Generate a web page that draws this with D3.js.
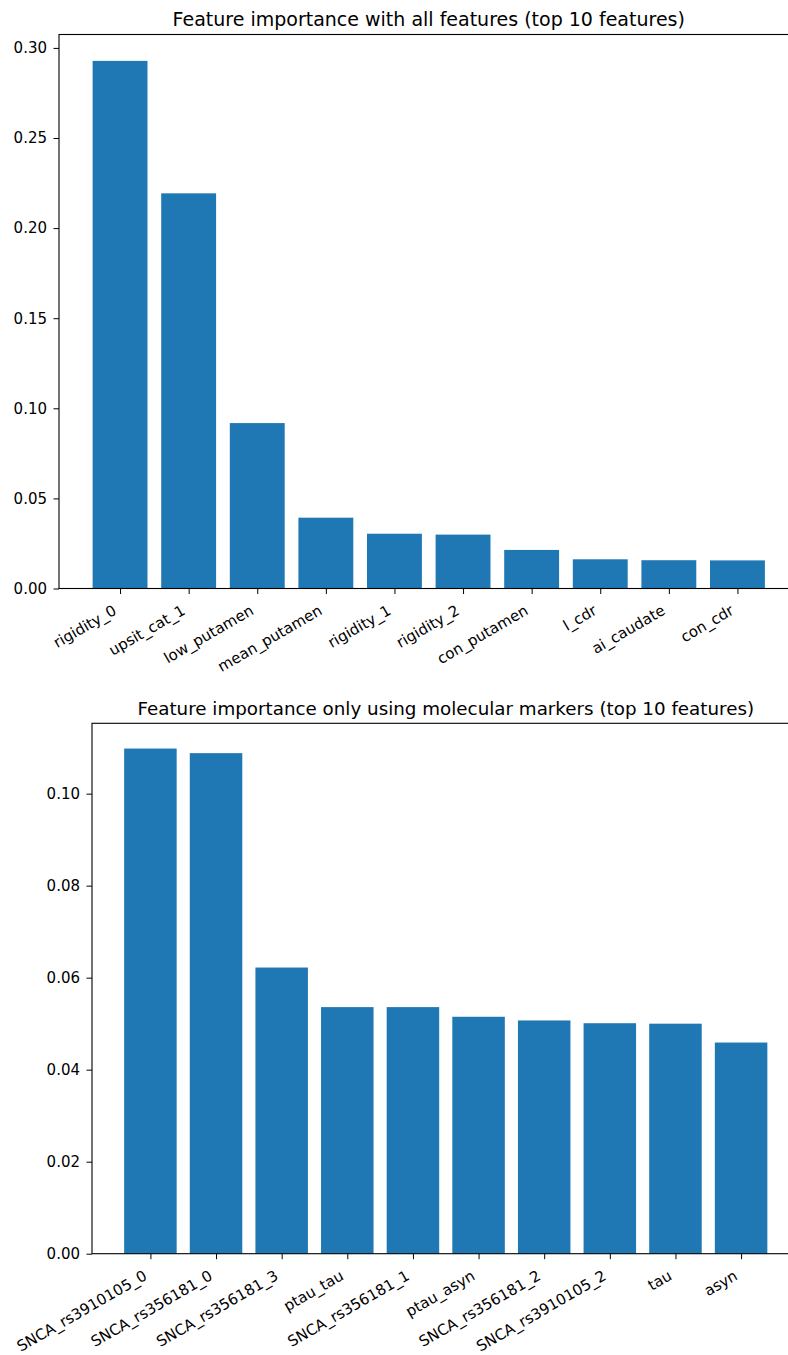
<!DOCTYPE html>
<html>
<head>
<meta charset="utf-8">
<script src="https://cdn.jsdelivr.net/npm/d3@7"></script>
<style>
  html, body { margin: 0; padding: 0; background: #fff; }
  svg { display: block; }
  text { font-family: "DejaVu Sans", sans-serif; fill: #000; }
</style>
</head>
<body>
<svg id="chart" width="788" height="1355"></svg>
<script>
// ---- data ----
const titleTop = "Feature importance with all features (top 10 features)";
const categoriesTop = ["rigidity_0", "upsit_cat_1", "low_putamen", "mean_putamen", "rigidity_1",
  "rigidity_2", "con_putamen", "l_cdr", "ai_caudate", "con_cdr"];
const valuesTop = [0.2928, 0.2193, 0.0918, 0.0393, 0.0304, 0.0299, 0.0214, 0.0162, 0.0157, 0.0156];
const yTicksTop = [0.00, 0.05, 0.10, 0.15, 0.20, 0.25, 0.30];

const titleBottom = "Feature importance only using molecular markers (top 10 features)";
const categoriesBottom = ["SNCA_rs3910105_0", "SNCA_rs356181_0", "SNCA_rs356181_3", "ptau_tau",
  "SNCA_rs356181_1", "ptau_asyn", "SNCA_rs356181_2", "SNCA_rs3910105_2", "tau", "asyn"];
const valuesBottom = [0.1098, 0.1088, 0.0622, 0.0536, 0.0536, 0.0515, 0.0507, 0.0501, 0.0500, 0.0459];
const yTicksBottom = [0.00, 0.02, 0.04, 0.06, 0.08, 0.10];

const barColor = "#1f77b4";
const svg = d3.select("#chart");

function drawPanel(cfg) {
  const { left, right, top, bottom, cats, vals, ticks, title, titleSize } = cfg;
  const g = svg.append("g");
  const n = cats.length;
  // matplotlib-like limits: bar width 0.8, 5% margins in x, 5% headroom in y
  const x = d3.scaleLinear().domain([-0.89, n - 1 + 0.89]).range([left, right]);
  const ymax = d3.max(vals) * 1.05;
  const y = d3.scaleLinear().domain([0, ymax]).range([bottom, top]);

  g.selectAll("rect.bar").data(vals).enter().append("rect")
    .attr("class", "bar")
    .attr("x", (d, i) => x(i - 0.4))
    .attr("width", (d, i) => x(i + 0.4) - x(i - 0.4))
    .attr("y", d => y(d))
    .attr("height", d => y(0) - y(d))
    .attr("fill", barColor);

  // y axis
  const ya = g.append("g").attr("transform", `translate(${left},0)`)
    .call(d3.axisLeft(y).tickValues(ticks).tickFormat(d3.format(".2f")).tickSize(5.5).tickPadding(6.5));
  ya.select(".domain").remove();
  ya.selectAll("text").style("font-size", "15px").style("font-family", "DejaVu Sans");
  ya.selectAll("line").attr("stroke", "#000").attr("stroke-width", 1);

  // x axis
  const xa = g.append("g").attr("transform", `translate(0,${bottom})`)
    .call(d3.axisBottom(x).tickValues(d3.range(n)).tickFormat(i => cats[i]).tickSize(5.5));
  xa.select(".domain").remove();
  xa.selectAll("line").attr("stroke", "#000").attr("stroke-width", 1);
  xa.selectAll("text")
    .attr("text-anchor", "end")
    .attr("x", 0).attr("y", 0).attr("dy", null)
    .attr("transform", "translate(-3,25) rotate(-30)")
    .style("font-size", "15px").style("font-family", "DejaVu Sans");

  // spines (full box)
  g.append("rect")
    .attr("x", left).attr("y", top)
    .attr("width", right - left).attr("height", bottom - top)
    .attr("fill", "none").attr("stroke", "#000").attr("stroke-width", 1.1);

  // title
  g.append("text")
    .attr("x", (left + right) / 2).attr("y", top - 8.5)
    .attr("text-anchor", "middle")
    .style("font-size", titleSize + "px")
    .text(title);
}

drawPanel({ left: 59, right: 798.5, top: 34.5, bottom: 588.5,
  cats: categoriesTop, vals: valuesTop, ticks: yTicksTop, title: titleTop, titleSize: 19 });
drawPanel({ left: 92, right: 799.5, top: 723.3, bottom: 1253.7,
  cats: categoriesBottom, vals: valuesBottom, ticks: yTicksBottom, title: titleBottom, titleSize: 18.3 });
</script>
</body>
</html>
